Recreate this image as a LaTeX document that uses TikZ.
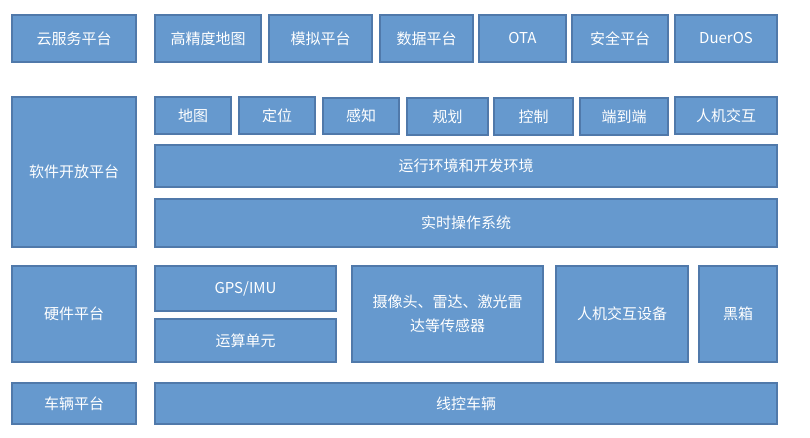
\documentclass[tikz,border=0pt]{standalone}
\usepackage{fontspec}
\newfontfamily\cjk{Noto Sans CJK SC}
\definecolor{boxfill}{HTML}{6699CE}
\definecolor{boxline}{HTML}{5079AA}
\begin{document}
\begin{tikzpicture}[x=1pt,y=-1pt,
  blk/.style={draw=boxline,line width=1.2pt,fill=boxfill,text=white,
    font=\cjk\fontsize{15}{18}\selectfont,align=center,inner sep=0pt}]
\useasboundingbox[fill=white] (0,0) rectangle (810,438);
\newcommand\bx[6]{\path[blk] (#2,#3) rectangle (#4,#5); \node[blk,draw=none,fill=none] (#1) at ({(#2+#4)/2},{(#3+#5)/2}) {#6};}
% row 1
\bx{cloud}{12}{15}{136}{62}{云服务平台}
\bx{hdmap}{155}{15}{261}{62}{高精度地图}
\bx{sim}{269}{15}{372}{62}{模拟平台}
\bx{data}{380}{15}{473}{62}{数据平台}
\bx{ota}{479}{15}{566}{62}{OTA}
\bx{sec}{572}{15}{668}{62}{安全平台}
\bx{duer}{675}{15}{777}{62}{DuerOS}
% row 2
\bx{soft}{12}{97}{136}{247}{软件开放平台}
\bx{map}{155}{97}{231}{134}{地图}
\bx{loc}{239}{97}{315}{134}{定位}
\bx{perc}{323}{98}{399}{134}{感知}
\bx{plan}{407}{98}{488}{135}{规划}
\bx{ctrl}{494}{98}{573}{135}{控制}
\bx{e2e}{580}{98}{668}{135}{端到端}
\bx{hmi}{675}{97}{777}{134}{人机交互}
\bx{rte}{155}{145}{777}{187}{运行环境和开发环境}
\bx{rtos}{155}{199}{777}{247}{实时操作系统}
% row 3
\bx{hw}{12}{266}{136}{362}{硬件平台}
\bx{gps}{155}{266}{336}{311}{GPS/IMU}
\bx{cpu}{155}{319}{336}{362}{运算单元}
\bx{sens}{352}{266}{543}{362}{摄像头、雷达、激光雷\\[6pt]达等传感器}
\bx{hmid}{556}{266}{688}{362}{人机交互设备}
\bx{bbox}{699}{266}{777}{362}{黑箱}
% row 4
\bx{veh}{12}{383}{136}{424}{车辆平台}
\bx{dbw}{155}{383}{777}{424}{线控车辆}
\end{tikzpicture}
\end{document}
